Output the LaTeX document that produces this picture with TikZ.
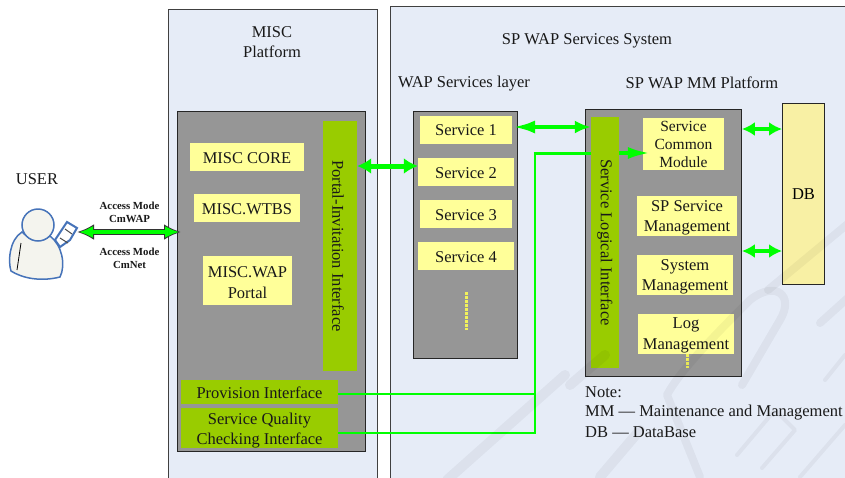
\documentclass[tikz,border=0pt]{standalone}
\usepackage{fontspec}
\setmainfont{Liberation Serif}
\usetikzlibrary{arrows.meta}
\definecolor{panel}{HTML}{E6ECF7}
\definecolor{core}{HTML}{969696}
\definecolor{yel}{HTML}{FFFF99}
\definecolor{grn}{HTML}{99CC00}
\definecolor{lime}{HTML}{00FF00}
\definecolor{dbc}{HTML}{F8F0A4}
\definecolor{body}{HTML}{F4F4EE}
\definecolor{ublue}{HTML}{4673B9}
\definecolor{dotc}{HTML}{F2F25A}
\tikzset{
  panelbox/.style={draw=black!75,line width=0.9pt,fill=panel},
  corebox/.style={draw=black!85,line width=0.9pt,fill=core},
  boxtxt/.style={inner sep=0pt,align=center,font=\fontsize{16.5}{20.5}\selectfont,text=black!90},
  tx/.style n args={3}{label={[boxtxt,xshift=#2pt,yshift=-#3pt]center:{#1}}},
  ybox/.style={fill=yel,inner sep=0pt,align=center,font=\fontsize{16.5}{20}\selectfont,text=black!90},
  gbox/.style={fill=grn,inner sep=0pt,align=center,font=\fontsize{16.5}{20}\selectfont,text=black!90},
  lbl/.style={align=center,inner sep=0pt,font=\fontsize{16.5}{20.5}\selectfont,text=black!90},
  tiny/.style={align=center,inner sep=0pt,font=\bfseries\fontsize{10.8}{12.8}\selectfont,text=black!90},
  dbl/.style={draw=lime,line width=4.5pt,{Latex[length=13pt,width=14pt]}-{Latex[length=13pt,width=14pt]}},
  single/.style={draw=lime,line width=3.5pt,-{Latex[length=22pt,width=12pt]}},
  thin link/.style={draw=lime,line width=2.2pt},
  dots/.style={draw=dotc,line width=3pt,dash pattern=on 2.5pt off 1.5pt},
  wmark/.style={draw=black,opacity=.045,line width=8pt,line cap=round,line join=round},
}
\begin{document}
\begin{tikzpicture}[x=1pt,y=-1pt]
\useasboundingbox (0,0) rectangle (845,477);
\clip (0,0) rectangle (845,477);
\fill[white] (0,0) rectangle (845,477);
% panels
\draw[panelbox] (168,9) rectangle (377,490);
\draw[panelbox] (390,6) rectangle (860,490);
\node[lbl] (toptail) at (275,-6) {y};
\node[lbl] (misc) at (272,42) {MISC\\Platform};
\node[lbl] (sys) at (587,40.5) {SP WAP Services System};
\node[lbl] (wsl) at (464,84) {WAP Services layer};
\node[lbl] (mmp) at (702,82.5) {SP WAP MM Platform};
\node[lbl,anchor=west] (note) at (585,392) {Note:};
\node[lbl,anchor=west] (n1) at (585,412.5) {MM — Maintenance and Management};
\node[lbl,anchor=west] (n2) at (585,432.5) {DB — DataBase};
\node[lbl] (user) at (37,179) {USER};
% core boxes
\node[corebox,minimum width=188pt,minimum height=340pt,anchor=north west,inner sep=0pt] (c1) at (177,111) {};
\node[corebox,minimum width=104pt,minimum height=247pt,anchor=north west,inner sep=0pt] (c2) at (413,111) {};
\node[corebox,minimum width=156pt,minimum height=267pt,anchor=north west,inner sep=0pt] (c3) at (585,109) {};
\node[draw=black!85,line width=.9pt,fill=dbc,minimum width=42pt,minimum height=181pt,anchor=north west,inner sep=0pt,font=\fontsize{16.5}{20}\selectfont] (db) at (782,103) {DB};
% left contents
\node[ybox,minimum width=114pt,minimum height=28pt,tx={MISC CORE}{0}{1}] (a1) at (247,157) {};
\node[ybox,minimum width=106pt,minimum height=28pt,tx={MISC.WTBS}{0}{1}] (a2) at (247,208) {};
\node[ybox,minimum width=89pt,minimum height=49pt,tx={MISC.WAP\\Portal}{0}{2}] (a3) at (247.5,280.5) {};
\node[gbox,minimum width=34pt,minimum height=250pt,tx={\rotatebox{-90}{Portal-Invitation Interface}}{-2}{0}] (pii) at (340,246) {};
\node[gbox,minimum width=157pt,minimum height=24pt,tx={Provision Interface}{0}{1}] (prov) at (259.5,392) {};
\node[gbox,minimum width=157pt,minimum height=40pt,tx={Service Quality\\Checking Interface}{0}{2.5}] (sq) at (259.5,428) {};
% services
\node[ybox,minimum width=92pt,minimum height=28pt,tx={Service 1}{0}{0.5}] (s1) at (466,130) {};
\node[ybox,minimum width=96pt,minimum height=28pt,tx={Service 2}{0}{1}] (s2) at (466,172) {};
\node[ybox,minimum width=92pt,minimum height=28pt,tx={Service 3}{0}{1}] (s3) at (466,214) {};
\node[ybox,minimum width=96pt,minimum height=28pt,tx={Service 4}{0}{1}] (s4) at (466,256) {};
\draw[dots] (466,292) -- (466,330);
% MM
\node[gbox,minimum width=28pt,minimum height=251pt,tx={\rotatebox{-90}{Service Logical Interface}}{0}{0}] (sli) at (605,242.5) {};
\node[ybox,minimum width=81pt,minimum height=52pt,font=\fontsize{15.5}{18}\selectfont] (m1) at (683.5,144) {Service\\Common\\Module};
\node[ybox,minimum width=100pt,minimum height=40pt,tx={SP Service\\Management}{0}{2}] (m2) at (687,216) {};
\node[ybox,minimum width=96pt,minimum height=40pt,tx={System\\Management}{0}{2}] (m3) at (685,275) {};
\node[ybox,minimum width=96pt,minimum height=40pt,tx={Log\\Management}{0}{1.5}] (m4) at (686,334) {};
\draw[dots] (687,354) -- (687,368);
% connectors
\coordinate (ua) at (77,232);
\coordinate (ub) at (181,232);
\draw[draw=black!80,line width=6pt,{Latex[length=17pt,width=16pt]}-{Latex[length=17pt,width=16pt]}] (ua) -- (ub);
\draw[draw=lime,line width=4pt,{Latex[length=14pt,width=12pt]}-{Latex[length=14pt,width=12pt]}] ([xshift=2pt]ua) -- ([xshift=-2pt]ub);
\node[tiny] (am1) at (129.5,212) {Access Mode\\CmWAP};
\node[tiny] (am2) at (129.5,258.5) {Access Mode\\CmNet};
\draw[dbl,line width=5pt,{Latex[length=14pt,width=16pt]}-{Latex[length=14pt,width=16pt]}] (pii.east |- 0,166) -- (s2.west |- 0,166);
\draw[dbl,{Latex[length=23pt,width=13pt]}-{Latex[length=16pt,width=13pt]}] (s1.east |- 0,127) -- (sli.west |- 0,127);
\draw[dbl] (c3.east |- 0,129) -- (db.west |- 0,129);
\draw[dbl] (c3.east |- 0,251) -- (db.west |- 0,251);
\draw[thin link] (prov.east |- 0,394) -- (535,394);
\draw[thin link] (sq.east |- 0,433) -- (535,433) -- (535,153);
\draw[draw=lime,line width=3pt] (533.5,153) -- (sli.west |- 0,153);
\draw[single] (sli.east |- 0,153) -- ([xshift=7pt]m1.west |- 0,153);
% user
\draw[ublue,line width=1.5pt,fill=body] (22,232) .. controls (9,240) and (8,262) .. (11,271) .. controls (22,278) and (40,282) .. (60,277) .. controls (66,265) and (62,245) .. (50,236) .. controls (40,243) and (30,240) .. (22,232) -- cycle;
\draw[black,line width=.8pt] (21,243) -- (17,270);
\draw[black,line width=.8pt] (24,232) .. controls (30,240) and (44,240) .. (50,236);
\draw[ublue,line width=1.5pt,fill=body] (38,225) circle[x radius=16,y radius=16];
\draw[ublue,line width=2pt,fill=white] (55,240) -- (67,222) -- (77,228) -- (70,240) -- (60,247) -- cycle;
\draw[black!70,line width=1pt] (60,238) -- (68,243);
\draw[black!70,line width=1pt] (65,229) -- (72,234);
% watermark
\draw[wmark] (700,477) -- (667,395) .. controls (680,370) and (720,330) .. (750,300) .. controls (775,280) and (795,295) .. (780,320) -- (742,385);
\draw[wmark] (820,323) -- (850,296);
\draw[wmark] (768,290) -- (850,222);
\draw[wmark,line width=10pt] (447,480) -- (565,375);
\draw[wmark,line width=10pt] (600,477) -- (640,430);
\draw[wmark,line width=10pt] (570,385) -- (605,355);
\draw[wmark,line width=4pt] (737,455) -- (775,410) -- (795,430) -- (762,468);
\draw[wmark,line width=4pt] (800,477) -- (845,425);
\draw[wmark,line width=4pt] (825,380) -- (845,355);
\end{tikzpicture}
\end{document}
